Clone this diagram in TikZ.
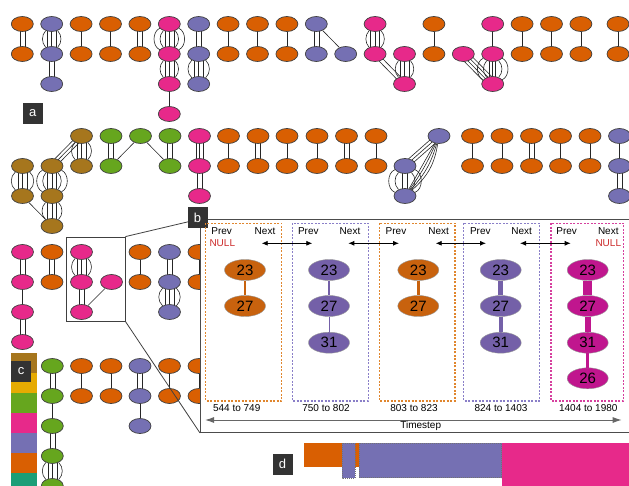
\documentclass[tikz,border=0pt]{standalone}
\usepackage{fontspec}
\setmainfont{Liberation Sans}
\usetikzlibrary{shapes.geometric,arrows.meta,backgrounds}
\definecolor{dor}{HTML}{D95F02}
\definecolor{dpu}{HTML}{7570B3}
\definecolor{dpk}{HTML}{E7298A}
\definecolor{dgr}{HTML}{66A61E}
\definecolor{dbr}{HTML}{A6761D}
\definecolor{dye}{HTML}{E6AB02}
\definecolor{dte}{HTML}{1B9E77}
\definecolor{bor}{HTML}{C8620E}
\definecolor{bpu}{HTML}{7460A8}
\definecolor{bmg}{HTML}{C0168E}
\definecolor{nullred}{HTML}{CC2B2B}
\definecolor{dashor}{HTML}{E0862E}
\definecolor{dashpu}{HTML}{8A7FC8}
\definecolor{dashmg}{HTML}{D6409E}
\tikzset{
 gn/.style={ellipse,minimum width=22pt,minimum height=15pt,inner sep=0pt,draw=black!75,line width=0.7pt},
 or/.style={gn,fill=dor}, pu/.style={gn,fill=dpu}, pk/.style={gn,fill=dpk},
 gr/.style={gn,fill=dgr}, br/.style={gn,fill=dbr},
 lnk/.style={draw=black!85,line width=0.6pt},
 lab/.style={fill=black!80,text=white,minimum width=20pt,minimum height=21pt,inner sep=0pt,font=\fontsize{13}{13}\selectfont},
 bn/.style={ellipse,minimum width=41pt,minimum height=21pt,inner sep=0pt,draw=black!40,line width=0.4pt,font=\fontsize{15}{15}\selectfont},
 tbox/.style={dash pattern=on 2pt off 1.5pt,line width=1.4pt},
 smalltxt/.style={font=\fontsize{10}{10}\selectfont,inner sep=0pt},
 dar/.style={{Latex[length=6pt,width=5pt]}-{Latex[length=6pt,width=5pt]},line width=0.8pt},
}
\newcommand\Vlines[3]{\foreach \dd in {#3}{\draw[lnk] ([xshift=\dd pt]#1.center) -- ([xshift=\dd pt]#2.center);}}
\newcommand\Varcs[3]{\foreach \bb in {#3}{\draw[lnk] (#1) to[bend left=\bb] (#2); \draw[lnk] (#1) to[bend right=\bb] (#2);}}
\begin{document}
\begin{tikzpicture}[x=1pt,y=-1pt]
\useasboundingbox (0,0) rectangle (629,486);
% ---------- section 1
\node[or] (t0a) at (22.3,24) {}; \node[or] (t0b) at (22.3,54) {};
\node[pu] (t1a) at (51.7,24) {}; \node[pu] (t1b) at (51.7,54) {}; \node[pu] (t1c) at (51.7,84) {};
\foreach \n/\x in {2/81.1,3/110.5,4/139.9,7/228.1,8/257.5,9/286.9,14/433.9,17/522.1,18/551.5,19/580.9,20/618}{
  \node[or] (t\n a) at (\x,24) {}; \node[or] (t\n b) at (\x,54) {};}
\node[pk] (t5a) at (169.3,24) {}; \node[pk] (t5b) at (169.3,54) {}; \node[pk] (t5c) at (169.3,84) {}; \node[pk] (t5d) at (169.3,114) {};
\node[pu] (t6a) at (198.7,24) {}; \node[pu] (t6b) at (198.7,54) {}; \node[pu] (t6c) at (198.7,84) {};
\node[pu] (t10a) at (316.3,24) {}; \node[pu] (t10b) at (316.3,54) {}; \node[pu] (t11) at (345.7,54) {};
\node[pk] (t12a) at (375.1,24) {}; \node[pk] (t12b) at (375.1,54) {};
\node[pk] (t13a) at (404.5,54) {}; \node[pk] (t13b) at (404.5,84) {};
\node[pk] (t15) at (463.3,54) {};
\node[pk] (t16a) at (492.7,24) {}; \node[pk] (t16b) at (492.7,54) {}; \node[pk] (t16c) at (492.7,84) {};
% ---------- section 2
\node[br] (u0a) at (22.5,166) {}; \node[br] (u0b) at (22.5,196) {};
\node[br] (u1a) at (52,166) {}; \node[br] (u1b) at (52,196) {}; \node[br] (u1c) at (52,226) {};
\node[br] (u2a) at (81.5,136) {}; \node[br] (u2b) at (81.5,166) {};
\node[gr] (u3a) at (111,136) {}; \node[gr] (u3b) at (111,166) {};
\node[gr] (u4) at (140.5,136) {};
\node[gr] (u5a) at (170,136) {}; \node[gr] (u5b) at (170,166) {};
\node[pk] (u6a) at (199.5,136) {}; \node[pk] (u6b) at (199.5,166) {}; \node[pk] (u6c) at (199.5,196) {};
\foreach \n/\x in {7/228.5,8/258,9/287,10/317,11/346.5,12/376,13/472.5,14/502,15/531.5,16/560.5,17/590}{
  \node[or] (u\n a) at (\x,136) {}; \node[or] (u\n b) at (\x,166) {};}
\node[pu] (vA) at (439,136) {}; \node[pu] (vB) at (405,166) {}; \node[pu] (vC) at (405,196) {};
\node[pu] (u18a) at (619.5,136) {}; \node[pu] (u18b) at (619.5,166) {}; \node[pu] (u18c) at (619.5,196) {};
% ---------- section 3
\node[pk] (w0a) at (22.5,252) {}; \node[pk] (w0b) at (22.5,282) {}; \node[pk] (w0c) at (22.5,312) {}; \node[pk] (w0d) at (22.5,342) {};
\node[or] (w1a) at (52,252) {}; \node[or] (w1b) at (52,282) {};
\node[pk] (w2a) at (81.5,252) {}; \node[pk] (w2b) at (81.5,282) {}; \node[pk] (w2c) at (81.5,312) {};
\node[pk] (w3) at (111.5,282) {};
\node[or] (w4a) at (140,252) {}; \node[or] (w4b) at (140,282) {};
\node[pu] (w5a) at (169.5,252) {}; \node[pu] (w5b) at (169.5,282) {}; \node[pu] (w5c) at (169.5,312) {};
\node[or] (w6a) at (199,252) {}; \node[or] (w6b) at (199,282) {};
% ---------- section 4
\node[gr] (x1a) at (52.3,366) {}; \node[gr] (x1b) at (52.3,396) {}; \node[gr] (x1c) at (52.3,426) {};
\node[gr] (x1d) at (52.3,456) {}; \node[gr] (x1e) at (52.3,486) {};
\foreach \n/\x in {2/81.5,3/111,5/169.5,6/199}{
  \node[or] (x\n a) at (\x,366) {}; \node[or] (x\n b) at (\x,396) {};}
\node[pu] (x4a) at (140,366) {}; \node[pu] (x4b) at (140,396) {}; \node[pu] (x4c) at (140,426) {};
% ---------- edges
\begin{scope}[on background layer]
\foreach \n in {2,3,7,8,9,14,17,18,19,20}{\draw[lnk] (t\n a) -- (t\n b);}
\Vlines{t0a}{t0b}{-2.5,2.5}
\Vlines{t1a}{t1b}{-4.5,0,4.5} \Varcs{t1a}{t1b}{42}
\Vlines{t1b}{t1c}{-2.5,2.5}
\Vlines{t4a}{t4b}{-2.5,2.5}
\Vlines{t5a}{t5b}{-4.5,0,4.5} \Varcs{t5a}{t5b}{42,66}
\Vlines{t5b}{t5c}{-4.5,0,4.5} \Varcs{t5b}{t5c}{42}
\draw[lnk] (t5c) -- (t5d);
\Vlines{t6a}{t6b}{-2.5,2.5}
\Vlines{t6b}{t6c}{-4.5,0,4.5} \Varcs{t6b}{t6c}{48}
\Vlines{t10a}{t10b}{-2.5,2.5}
\draw[lnk] (t10a) -- (t11);
\Vlines{t12a}{t12b}{-4.5,0,4.5} \Varcs{t12a}{t12b}{42}
\Vlines{t13a}{t13b}{-4.5,0,4.5} \Varcs{t13a}{t13b}{42}
\foreach \k in {-1,1}{\draw[lnk] ([shift={({\k*1.5},{\k*(-1.5)})}]t12b.center) -- ([shift={({\k*1.5},{\k*(-1.5)})}]t13b.center);}
\draw[lnk] (t16a) -- (t16b);
\Vlines{t16b}{t16c}{-3,0,3} \Varcs{t16b}{t16c}{42,66}
\foreach \k in {-4.5,-1.5,1.5,4.5}{\draw[lnk] ([shift={({\k*0.714},{\k*(-0.7)})}]t15.center) -- ([shift={({\k*0.714},{\k*(-0.7)})}]t16c.center);}
% section 2
\Vlines{u0a}{u0b}{-4.5,0,4.5} \Varcs{u0a}{u0b}{50}
\Vlines{u1a}{u1b}{-4.5,0,4.5} \Varcs{u1a}{u1b}{42,66}
\Vlines{u1b}{u1c}{-4.5,0,4.5} \Varcs{u1b}{u1c}{45}
\draw[lnk] (u0b) -- (u1c);
\foreach \k in {-3,0,3}{\draw[lnk] ([shift={({\k*0.713},{\k*0.701})}]u1a.center) -- ([shift={({\k*0.713},{\k*0.701})}]u2a.center);}
\Vlines{u2a}{u2b}{-4.5,0,4.5} \Varcs{u2a}{u2b}{45}
\Vlines{u3a}{u3b}{-2.5,2.5}
\draw[lnk] (u4) -- (u3b); \draw[lnk] (u4) -- (u5b);
\Vlines{u5a}{u5b}{-2.5,2.5}
\Vlines{u6a}{u6b}{-3.5,0,3.5}
\Vlines{u6b}{u6c}{-2.5,2.5}
\foreach \n in {7,9,10,12,13,14,16,17}{\draw[lnk] (u\n a) -- (u\n b);}
\foreach \n in {8,11,15}{\Vlines{u\n a}{u\n b}{-2.5,2.5}}
\foreach \k in {-3,0,3}{\draw[lnk] ([shift={({\k*0.66},{\k*0.75})}]vA.center) -- ([shift={({\k*0.66},{\k*0.75})}]vB.center);}
\draw[lnk] (vA) -- (vC);
\foreach \bb in {6,13,20}{\draw[lnk] (vA) to[bend left=\bb] (vC);}
\Vlines{vB}{vC}{-2.5,2.5} \Varcs{vB}{vC}{45,70}
\draw[lnk] (u18a) -- (u18b);
\Vlines{u18b}{u18c}{-2.5,2.5}
% section 3
\Vlines{w0a}{w0b}{-2.5,2.5} \draw[lnk] (w0b) -- (w0c); \Vlines{w0c}{w0d}{-2.5,2.5}
\Vlines{w1a}{w1b}{-2.5,2.5}
\Vlines{w2a}{w2b}{-4.5,0,4.5} \Varcs{w2a}{w2b}{45}
\Vlines{w2b}{w2c}{-2.5,2.5}
\draw[lnk] (w3) -- (w2c);
\draw[lnk] (w4a) -- (w4b);
\Vlines{w5a}{w5b}{-2.5,2.5}
\Vlines{w5b}{w5c}{-4.5,0,4.5} \Varcs{w5b}{w5c}{48}
\draw[lnk] (w6a) -- (w6b);
% section 4
\Vlines{x1a}{x1b}{-2.5,2.5} \draw[lnk] (x1b) -- (x1c); \Vlines{x1c}{x1d}{-2.5,2.5}
\Vlines{x1d}{x1e}{-4.5,0,4.5} \Varcs{x1d}{x1e}{45}
\foreach \n in {2,3,5,6}{\draw[lnk] (x\n a) -- (x\n b);}
\Vlines{x4a}{x4b}{-2.5,2.5} \draw[lnk] (x4b) -- (x4c);
\end{scope}
% ---------- legend strip c
\fill[dbr] (11,353) rectangle (37,373);
\fill[dye] (11,373) rectangle (37,393);
\fill[dgr] (11,393) rectangle (37,413);
\fill[dpk] (11,413) rectangle (37,433);
\fill[dpu] (11,433) rectangle (37,453);
\fill[dor] (11,453) rectangle (37,473);
\fill[dte] (11,473) rectangle (37,490);
% ---------- labels a, c
\node[lab] (la) at (32.7,113.5) {a};
\node[lab] (lc) at (21,371) {c};
% ---------- zoom box and panel b
\node[draw=black!75,line width=0.8pt,minimum width=59pt,minimum height=84pt,inner sep=0pt] (zr) at (95.5,279) {};
\node[draw=black!70,fill=white,line width=1pt,minimum width=432pt,minimum height=213pt,inner sep=0pt,anchor=north west] (pan) at (200,219) {};
\draw[black!75,line width=0.8pt] (zr.north east) -- (pan.north west);
\draw[black!75,line width=0.8pt] (zr.south east) -- (pan.south west);
\node[lab] (lb) at (197.5,217.5) {b};
% dashed time boxes
\draw[tbox,draw=dashor] (205.7,223.3) rectangle (281.7,401);
\draw[tbox,draw=dashpu] (292.3,223.3) rectangle (368.3,401);
\draw[tbox,draw=dashor] (379.3,223.3) rectangle (455,401);
\draw[tbox,draw=dashpu] (463.7,223.3) rectangle (539.3,401);
\draw[tbox,draw=dashmg] (551,223.3) rectangle (623.3,401);
% prev / next
\foreach \i/\p/\q in {1/221.7/265,2/308.3/350,3/396/438.7,4/480.3/521.7,5/566.7/608.3}{
  \node[smalltxt] (prev\i) at (\p,231) {Prev};
  \node[smalltxt] (next\i) at (\q,231) {Next};}
\node[smalltxt,text=nullred] (null1) at (222.3,243.3) {NULL};
\node[smalltxt,text=nullred] (null5) at (608.3,243.3) {NULL};
\coordinate (a1l) at (261.7,243.3); \coordinate (a1r) at (312.3,243.3);
\coordinate (a2l) at (348.3,243.3); \coordinate (a2r) at (399,243.3);
\coordinate (a3l) at (435.7,243.3); \coordinate (a3r) at (486,243.3);
\coordinate (a4l) at (520,243.3); \coordinate (a4r) at (570.7,243.3);
\draw[dar] (a1l) -- (a1r); \draw[dar] (a2l) -- (a2r);
\draw[dar] (a3l) -- (a3r); \draw[dar] (a4l) -- (a4r);
% panel nodes
\node[bn,fill=bor] (p1a) at (245,270) {23}; \node[bn,fill=bor] (p1b) at (245,306) {27};
\node[bn,fill=bpu] (p2a) at (329,270) {23}; \node[bn,fill=bpu] (p2b) at (329,306) {27}; \node[bn,fill=bpu] (p2c) at (329,342.7) {31};
\node[bn,fill=bor] (p3a) at (418.3,270) {23}; \node[bn,fill=bor] (p3b) at (418.3,306) {27};
\node[bn,fill=bpu] (p4a) at (500.7,270) {23}; \node[bn,fill=bpu] (p4b) at (500.7,306) {27}; \node[bn,fill=bpu] (p4c) at (500.7,342.7) {31};
\node[bn,fill=bmg] (p5a) at (587.7,270) {23}; \node[bn,fill=bmg] (p5b) at (587.7,306) {27};
\node[bn,fill=bmg] (p5c) at (587.7,342.7) {31}; \node[bn,fill=bmg] (p5d) at (587.7,378.3) {26};
\draw[bor,line width=2.5pt] (p1a) -- (p1b);
\draw[bpu,line width=2.2pt] (p2a) -- (p2b);
\draw[bpu,line width=1pt] (p2b) -- (p2c);
\draw[bor,line width=2.5pt] (p3a) -- (p3b);
\draw[bpu,line width=5pt] (p4a) -- (p4b);
\draw[bpu,line width=4pt] (p4b) -- (p4c);
\draw[bmg,line width=8.5pt] (p5a) -- (p5b);
\draw[bmg,line width=6pt] (p5b) -- (p5c);
\draw[bmg,line width=3pt] (p5c) -- (p5d);
% ranges
\node[smalltxt] (r1) at (236.7,408.3) {544 to 749};
\node[smalltxt] (r2) at (326,408.3) {750 to 802};
\node[smalltxt] (r3) at (414,408.3) {803 to 823};
\node[smalltxt] (r4) at (501,408.3) {824 to 1403};
\node[smalltxt] (r5) at (588.3,408.3) {1404 to 1980};
\coordinate (tl) at (205,420); \coordinate (tr) at (621.7,420);
\draw[{Latex[length=9pt,width=6pt]}-{Latex[length=9pt,width=6pt]},black!60,line width=1pt] (tl) -- (tr);
\node[smalltxt,anchor=north] (ts) at (420.7,421.5) {Timestep};
% ---------- panel d
\node[lab] (ld) at (282.5,464) {d};
\fill[dor] (304.3,443.3) rectangle (359,466.7);
\draw[fill=dpu,draw=black!55,dash pattern=on 1pt off 1pt,line width=0.6pt] (342.3,443.3) rectangle (355,478.3);
\draw[fill=dpu,draw=black!55,dash pattern=on 1pt off 1pt,line width=0.6pt] (359.3,443.3) rectangle (501.7,477.7);
\fill[dpk] (502.3,443.3) rectangle (632,490);
\end{tikzpicture}
\end{document}
